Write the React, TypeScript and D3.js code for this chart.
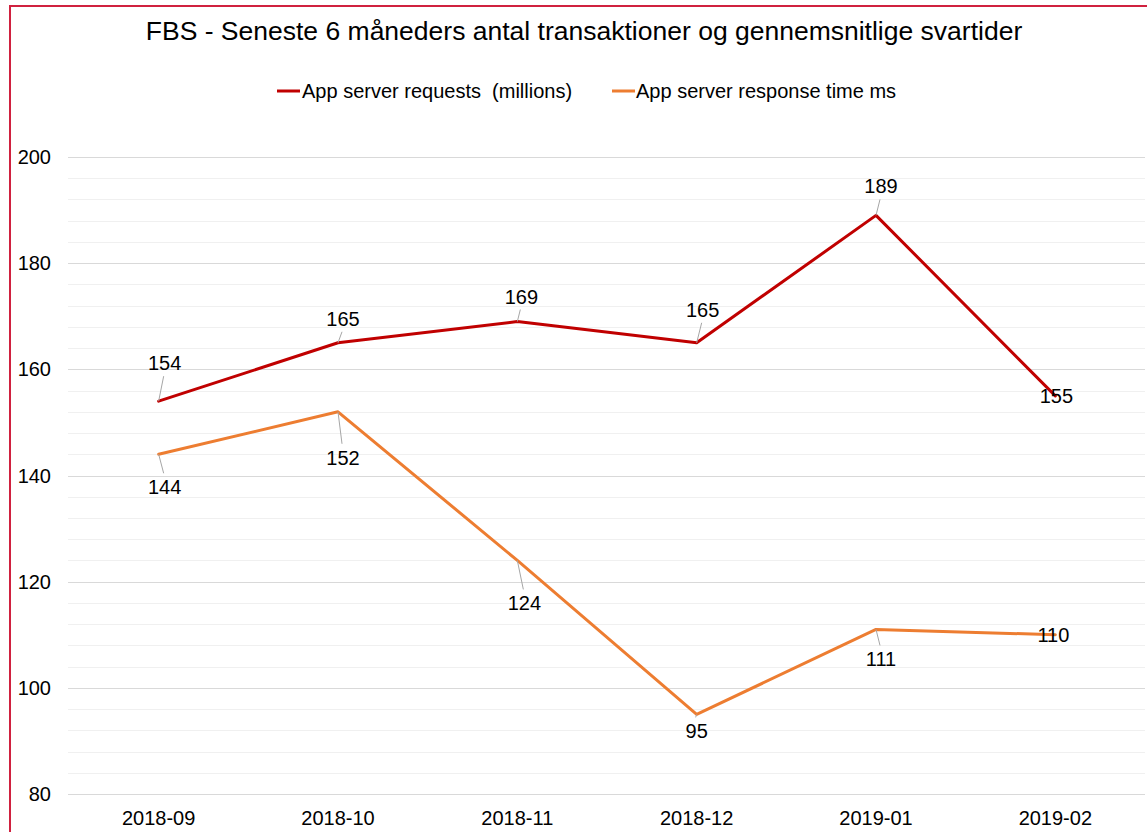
import React from "react";
import * as d3 from "d3";

const categories = ["2018-09", "2018-10", "2018-11", "2018-12", "2019-01", "2019-02"];
const requests = [154, 165, 169, 165, 189, 155];
const responseTime = [144, 152, 124, 95, 111, 110];
const yTicks = [80, 100, 120, 140, 160, 180, 200];
const title = "FBS - Seneste 6 måneders antal transaktioner og gennemsnitlige svartider";
const seriesNames = ["App server requests  (millions)", "App server response time ms"];

// label placement offsets (style): [dx, dy baseline]
const reqLabelOffsets: [number, number][] = [[6, -31], [5, -17], [4, -18], [6, -26], [5, -22], [1, 7]];
const rtLabelOffsets: [number, number][] = [[6, 40], [5, 53], [7, 50], [0, 24], [5, 37], [-2, 7]];

const W = 1147, H = 832;
const FONT = "'Liberation Sans', Arial, Helvetica, sans-serif";
const RED = "#c00000";
const ORANGE = "#ed7d31";

export default function App() {
  const x = d3.scalePoint<string>().domain(categories).range([69, 1145]).padding(0.5);
  const y = d3.scaleLinear().domain([80, 200]).range([794, 157]);
  const minor = d3.range(80, 200.001, 4);
  const line = d3.line<number>().x((_, i) => x(categories[i])!).y((d) => y(d));

  const renderLabels = (vals: number[], offs: [number, number][], key: string) =>
    vals.map((v, i) => {
      const px = x(categories[i])!;
      const py = y(v);
      const [dx, dy] = offs[i];
      const lx = px + dx;
      const ly = py + dy;
      const above = dy < 0;
      const dist = Math.abs(dy);
      const showLeader = dist > 16;
      const endY = above ? ly + 6 : ly - 21;
      return (
        <g key={key + i}>
          {showLeader && (
            <line x1={px} y1={py} x2={lx - 1} y2={endY} stroke="#a6a6a6" strokeWidth={1} />
          )}
          <text x={lx} y={ly} textAnchor="middle" fontSize={20} fill="#000" fontFamily={FONT}>
            {v}
          </text>
        </g>
      );
    });

  return (
    <svg width={W} height={H} style={{ position: "absolute", left: 0, top: 0, background: "#fff" }}>
      <rect x={0} y={0} width={W} height={H} fill="#fff" />
      <path d={`M10,${H + 2} V6 H${W + 2}`} fill="none" stroke="#d0213f" strokeWidth={2} />
      <text x={584} y={40} textAnchor="middle" fontSize={26.5} fontFamily={FONT} fill="#000">
        {title}
      </text>
      {/* legend */}
      <g fontFamily={FONT} fontSize={20} style={{ whiteSpace: "pre" }}>
        <line x1={277} x2={300} y1={91} y2={91} stroke={RED} strokeWidth={3} />
        <text x={302} y={98} fill="#000" xmlSpace="preserve">{seriesNames[0]}</text>
        <line x1={612} x2={635} y1={91} y2={91} stroke={ORANGE} strokeWidth={3} />
        <text x={636} y={98} fill="#000">{seriesNames[1]}</text>
      </g>
      {/* grid */}
      {minor.map((t) => (
        <line key={"m" + t} x1={68} x2={1145} y1={Math.round(y(t)) + 0.5} y2={Math.round(y(t)) + 0.5}
          stroke={t % 20 === 0 ? "#d9d9d9" : "#f0f0f0"} strokeWidth={1} />
      ))}
      {yTicks.map((t) => (
        <text key={"yt" + t} x={51} y={y(t) + 7} textAnchor="end" fontSize={20} fontFamily={FONT} fill="#000">
          {t}
        </text>
      ))}
      {categories.map((c) => (
        <text key={c} x={x(c)!} y={825} textAnchor="middle" fontSize={20} fontFamily={FONT} fill="#000">
          {c}
        </text>
      ))}
      <path d={line(requests)!} fill="none" stroke={RED} strokeWidth={3} strokeLinejoin="round" strokeLinecap="round" />
      <path d={line(responseTime)!} fill="none" stroke={ORANGE} strokeWidth={3} strokeLinejoin="round" strokeLinecap="round" />
      {renderLabels(requests, reqLabelOffsets, "r")}
      {renderLabels(responseTime, rtLabelOffsets, "o")}
    </svg>
  );
}
